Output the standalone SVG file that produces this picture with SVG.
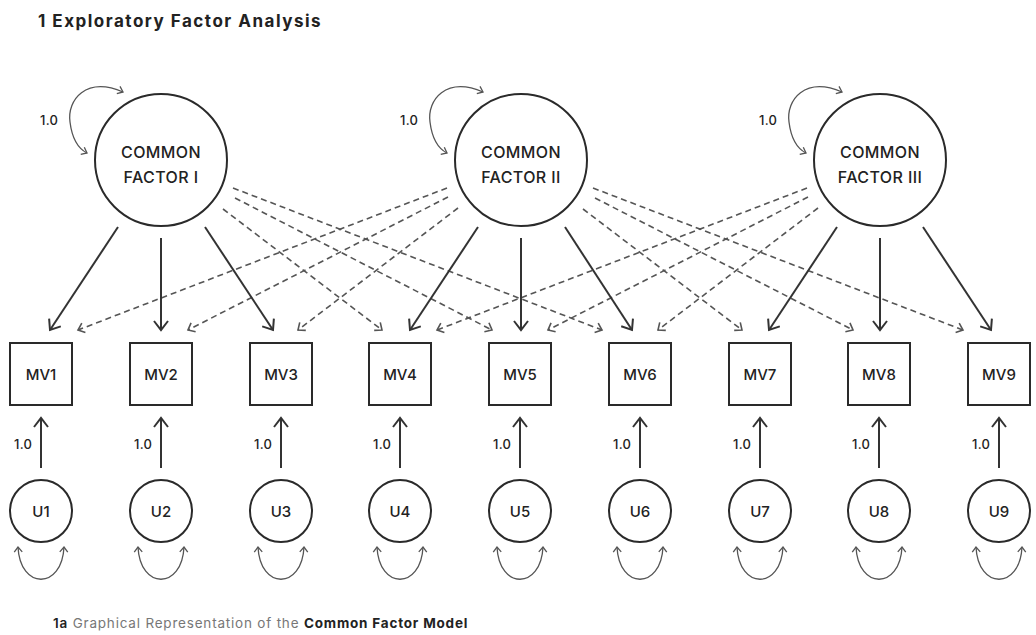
<svg xmlns="http://www.w3.org/2000/svg" width="1036" height="635" viewBox="0 0 1036 635">
<style>
text{font-family:Inter,"Liberation Sans",sans-serif;fill:#222}
.fac{font-size:16px;font-weight:500;text-anchor:middle;letter-spacing:0.4px}
.mv{font-size:15px;font-weight:500;text-anchor:middle}
.lab{font-size:13px;font-weight:500;letter-spacing:0.3px}
.node{fill:#fff;stroke:#2a2a2a;stroke-width:2}
.solid{stroke:#333;stroke-width:2;fill:none;marker-end:url(#ah)}
.dash{stroke:#555;stroke-width:1.6;fill:none;stroke-dasharray:6 4;marker-end:url(#ahd)}
.loop{stroke:#555;stroke-width:1.3;fill:none;marker-start:url(#ahl);marker-end:url(#ahl)}
</style>
<defs>
<marker id="ah" viewBox="-11 -8 13 16" refX="0" refY="0" markerWidth="13" markerHeight="16" markerUnits="userSpaceOnUse" orient="auto"><path d="M-9,-7 L0,0 L-9,7" fill="none" stroke="#333" stroke-width="2"/></marker>
<marker id="ahd" viewBox="-8 -6 10 12" refX="0" refY="0" markerWidth="10" markerHeight="12" markerUnits="userSpaceOnUse" orient="auto"><path d="M-6,-5 L0,0 L-6,5" fill="none" stroke="#555" stroke-width="1.6"/></marker>
<marker id="ahl" viewBox="-7 -5 8 10" refX="0" refY="0" markerWidth="8" markerHeight="10" markerUnits="userSpaceOnUse" orient="auto-start-reverse"><path d="M-5,-4 L0,0 L-5,4" fill="none" stroke="#555" stroke-width="1.3"/></marker>
</defs>
<rect width="1036" height="635" fill="#fff"/>
<text x="38" y="27" style="font-size:17px;font-weight:700;letter-spacing:1.5px">1 Exploratory Factor Analysis</text>

<g id="connectors">
<path class="loop" d="M123,92 C86,76 67,100 70,122 C72,138 77,148 87,153"/>
<path class="loop" d="M483,92 C446,76 427,100 430,122 C432,138 437,148 447,153"/>
<path class="loop" d="M842,92 C805,76 786,100 789,122 C791,138 796,148 806,153"/>
<line class="dash" x1="233" y1="188" x2="602" y2="330"/>
<line class="dash" x1="235" y1="198" x2="492" y2="330"/>
<line class="dash" x1="223" y1="209" x2="382" y2="330"/>
<line class="dash" x1="447" y1="188" x2="78" y2="330"/>
<line class="dash" x1="448" y1="197" x2="188" y2="330"/>
<line class="dash" x1="458" y1="208" x2="298" y2="330"/>
<line class="dash" x1="593" y1="188" x2="963" y2="330"/>
<line class="dash" x1="595" y1="198" x2="853" y2="330"/>
<line class="dash" x1="583" y1="209" x2="742" y2="330"/>
<line class="dash" x1="807" y1="188" x2="437" y2="330"/>
<line class="dash" x1="808" y1="197" x2="548" y2="330"/>
<line class="dash" x1="818" y1="208" x2="658" y2="330"/>
<line class="solid" x1="118" y1="227" x2="50" y2="330"/>
<line class="solid" x1="161" y1="238" x2="161" y2="330"/>
<line class="solid" x1="205" y1="227" x2="273" y2="330"/>
<line class="solid" x1="478" y1="227" x2="410" y2="330"/>
<line class="solid" x1="521" y1="238" x2="521" y2="330"/>
<line class="solid" x1="565" y1="227" x2="632" y2="330"/>
<line class="solid" x1="837" y1="227" x2="769" y2="330"/>
<line class="solid" x1="880" y1="238" x2="880" y2="330"/>
<line class="solid" x1="923" y1="227" x2="991" y2="330"/>
<line class="solid" x1="41" y1="468" x2="41" y2="418"/>
<line class="solid" x1="161" y1="468" x2="161" y2="418"/>
<line class="solid" x1="281" y1="468" x2="281" y2="418"/>
<line class="solid" x1="400" y1="468" x2="400" y2="418"/>
<line class="solid" x1="520" y1="468" x2="520" y2="418"/>
<line class="solid" x1="640" y1="468" x2="640" y2="418"/>
<line class="solid" x1="760" y1="468" x2="760" y2="418"/>
<line class="solid" x1="879" y1="468" x2="879" y2="418"/>
<line class="solid" x1="999" y1="468" x2="999" y2="418"/>
<path class="loop" d="M18,547 C20,590 62,590 64,547"/>
<path class="loop" d="M138,547 C140,590 182,590 184,547"/>
<path class="loop" d="M258,547 C260,590 302,590 304,547"/>
<path class="loop" d="M377,547 C379,590 421,590 423,547"/>
<path class="loop" d="M497,547 C499,590 541,590 543,547"/>
<path class="loop" d="M617,547 C619,590 661,590 663,547"/>
<path class="loop" d="M737,547 C739,590 781,590 783,547"/>
<path class="loop" d="M856,547 C858,590 900,590 902,547"/>
<path class="loop" d="M976,547 C978,590 1020,590 1022,547"/>
<text class="lab" x="40" y="125">1.0</text>
<text class="lab" x="400" y="125">1.0</text>
<text class="lab" x="759" y="125">1.0</text>
<text class="lab" x="14" y="449">1.0</text>
<text class="lab" x="134" y="449">1.0</text>
<text class="lab" x="254" y="449">1.0</text>
<text class="lab" x="373" y="449">1.0</text>
<text class="lab" x="493" y="449">1.0</text>
<text class="lab" x="613" y="449">1.0</text>
<text class="lab" x="733" y="449">1.0</text>
<text class="lab" x="852" y="449">1.0</text>
<text class="lab" x="972" y="449">1.0</text>
</g>

<g id="factor1"><circle class="node" cx="161" cy="160" r="66"/><text class="fac" x="161" y="158">COMMON</text><text class="fac" x="161" y="183">FACTOR I</text></g>
<g id="factor2"><circle class="node" cx="521" cy="160" r="66"/><text class="fac" x="521" y="158">COMMON</text><text class="fac" x="521" y="183">FACTOR II</text></g>
<g id="factor3"><circle class="node" cx="880" cy="160" r="66"/><text class="fac" x="880" y="158">COMMON</text><text class="fac" x="880" y="183">FACTOR III</text></g>

<g id="mv1"><rect class="node" x="10" y="343" width="62" height="62"/><text class="mv" x="41" y="380">MV1</text></g>
<g id="mv2"><rect class="node" x="130" y="343" width="62" height="62"/><text class="mv" x="161" y="380">MV2</text></g>
<g id="mv3"><rect class="node" x="250" y="343" width="62" height="62"/><text class="mv" x="281" y="380">MV3</text></g>
<g id="mv4"><rect class="node" x="369" y="343" width="62" height="62"/><text class="mv" x="400" y="380">MV4</text></g>
<g id="mv5"><rect class="node" x="489" y="343" width="62" height="62"/><text class="mv" x="520" y="380">MV5</text></g>
<g id="mv6"><rect class="node" x="609" y="343" width="62" height="62"/><text class="mv" x="640" y="380">MV6</text></g>
<g id="mv7"><rect class="node" x="729" y="343" width="62" height="62"/><text class="mv" x="760" y="380">MV7</text></g>
<g id="mv8"><rect class="node" x="848" y="343" width="62" height="62"/><text class="mv" x="879" y="380">MV8</text></g>
<g id="mv9"><rect class="node" x="968" y="343" width="62" height="62"/><text class="mv" x="999" y="380">MV9</text></g>

<g id="u1"><circle class="node" cx="41" cy="511" r="31"/><text class="mv" x="41" y="517">U1</text></g>
<g id="u2"><circle class="node" cx="161" cy="511" r="31"/><text class="mv" x="161" y="517">U2</text></g>
<g id="u3"><circle class="node" cx="281" cy="511" r="31"/><text class="mv" x="281" y="517">U3</text></g>
<g id="u4"><circle class="node" cx="400" cy="511" r="31"/><text class="mv" x="400" y="517">U4</text></g>
<g id="u5"><circle class="node" cx="520" cy="511" r="31"/><text class="mv" x="520" y="517">U5</text></g>
<g id="u6"><circle class="node" cx="640" cy="511" r="31"/><text class="mv" x="640" y="517">U6</text></g>
<g id="u7"><circle class="node" cx="760" cy="511" r="31"/><text class="mv" x="760" y="517">U7</text></g>
<g id="u8"><circle class="node" cx="879" cy="511" r="31"/><text class="mv" x="879" y="517">U8</text></g>
<g id="u9"><circle class="node" cx="999" cy="511" r="31"/><text class="mv" x="999" y="517">U9</text></g>

<text x="53" y="628" style="font-size:13.5px;letter-spacing:0.8px"><tspan font-weight="600">1a</tspan><tspan fill="#777"> Graphical Representation of the </tspan><tspan font-weight="700">Common Factor Model</tspan></text>
</svg>
